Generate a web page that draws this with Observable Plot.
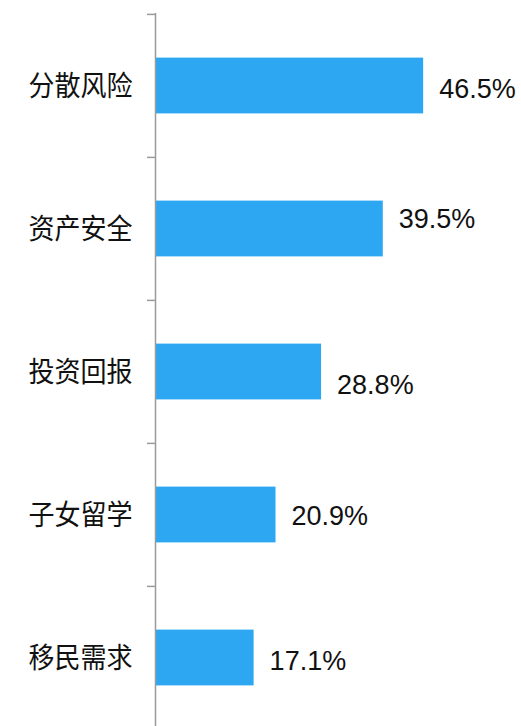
<!DOCTYPE html>
<html>
<head>
<meta charset="utf-8">
<script src="https://cdn.jsdelivr.net/npm/d3@7"></script>
<script src="https://cdn.jsdelivr.net/npm/@observablehq/plot@0.6"></script>
<style>
  html, body { margin: 0; padding: 0; background: #fff; overflow: hidden; }
  #chart { width: 521px; height: 726px; overflow: hidden; }
</style>
</head>
<body>
<div id="chart"></div>
<script>
const categories = ["分散风险", "资产安全", "投资回报", "子女留学", "移民需求"];
const values = [46.5, 39.5, 28.8, 20.9, 17.1];

const data = categories.map((c, i) => ({category: c, value: values[i]}));

// vertical nudges of the value labels (layout only), as in the original
const labelNudge = [3.5, -9.6, 13.1, 1.8, 3.5];

const height = 740;
const marginTop = 13;
const marginBottom = 11;
const band = (height - marginTop - marginBottom) / categories.length;

const chart = Plot.plot({
  width: 521,
  height,
  marginLeft: 155,
  marginRight: 20,
  marginTop,
  marginBottom,
  style: {background: "transparent"},
  x: {domain: [0, 60], axis: null},
  y: {domain: categories, padding: 0, label: null},
  marks: [
    Plot.barX(data, {
      x: "value",
      y: "category",
      fill: "#2ea7f3",
      insetTop: 43.6,
      insetBottom: 43.6
    }),
    ...data.map((d, i) => Plot.text([d], {
      x: "value",
      y: "category",
      text: d => d.value.toFixed(1) + "%",
      textAnchor: "start",
      dx: 15.5,
      dy: labelNudge[i],
      fontSize: 27,
      fontFamily: "Liberation Sans, Arial, sans-serif",
      fill: "#111"
    })),
    Plot.axisY({
      tickSize: 0,
      tickPadding: 23,
      fontSize: 28,
      dy: 1,
      fontFamily: "Noto Sans CJK SC, sans-serif",
      fill: "#111",
      label: null
    }),
    Plot.axisY({
      tickSize: 8,
      tickFormat: () => "",
      dy: -band / 2,
      stroke: "#9a9a9a",
      strokeWidth: 1.5,
      label: null
    }),
    Plot.ruleX([0], {stroke: "#9a9a9a", strokeWidth: 1.5})
  ]
});

function squeeze(selector, s) {
  chart.querySelectorAll(selector).forEach(t => {
    const x = +(t.getAttribute("x") || 0);
    const tr = t.getAttribute("transform") || "";
    t.setAttribute("transform", `${tr} translate(${x},0) scale(${s},1) translate(${-x},0)`);
  });
}
squeeze('g[aria-label="y-axis tick label"] text', 0.93);

document.getElementById("chart").appendChild(chart);
</script>
</body>
</html>
